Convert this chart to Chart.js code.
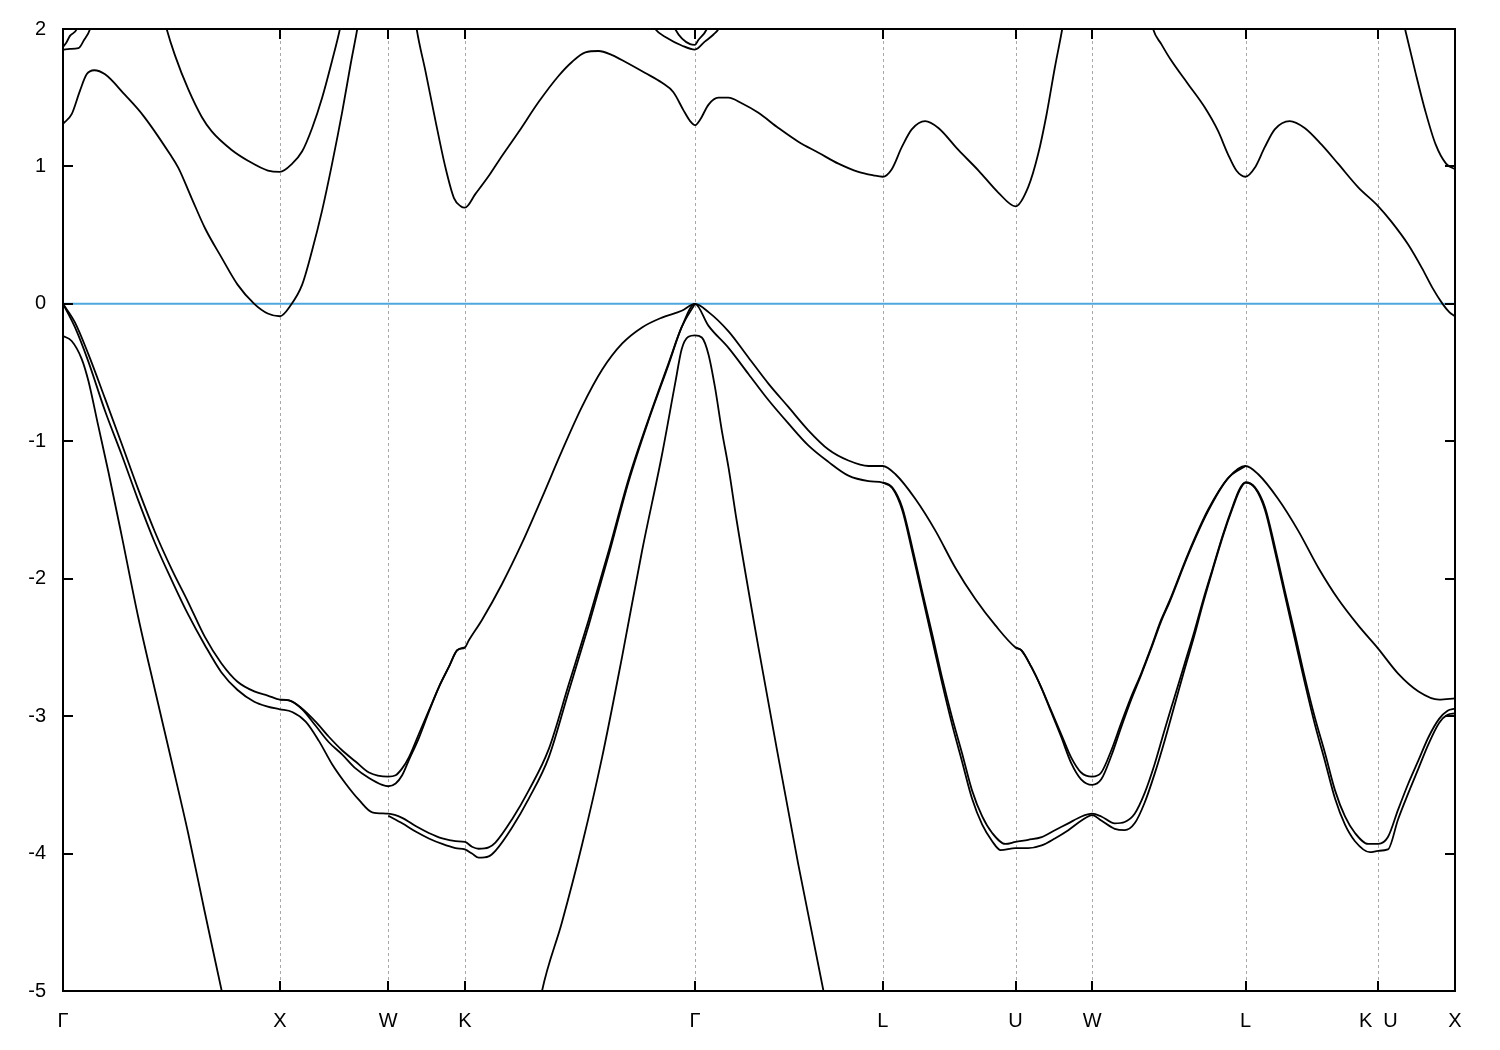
<!DOCTYPE html>
<html>
<head>
<meta charset="utf-8">
<script src="https://cdn.jsdelivr.net/npm/chart.js@4.4.1/dist/chart.umd.min.js"></script>
<style>
  html, body { margin: 0; padding: 0; background: #fff; }
  #wrap { width: 1500px; height: 1050px; }
</style>
</head>
<body>
<div id="wrap"><canvas id="bands" width="1500" height="1050"></canvas></div>
<script>
// high-symmetry path (units of 2pi/a) and labels
const kTicks = [0, 1.0, 1.5, 1.8536, 2.9142, 3.7802, 4.3926, 4.7462, 5.4533, 6.0657, 6.4193];
const kLabels = ['Γ', 'X', 'W', 'K', 'Γ', 'L', 'U', 'W', 'L', 'K  U', 'X'];
const eMin = -5, eMax = 2;
const fermi = [[0, 0], [6.4193, 0]];

// ---- conduction bands [k, E] ----
const cond1 = [
  [0,1.31],[0.040,1.38],[0.078,1.55],[0.109,1.67],[0.144,1.70],[0.194,1.67],[0.286,1.52],[0.370,1.37],[0.493,1.09],[0.532,0.99],[0.593,0.77],[0.655,0.55],[0.730,0.34],[0.805,0.14],[0.882,0.0],[0.944,-0.07],[1.0,-0.09],
  [1.050,-0.01],[1.103,0.14],[1.149,0.39],[1.195,0.68],[1.241,1.02],[1.288,1.40],[1.326,1.74],[1.357,2.0],[1.42,2.6],[1.5,2.9],
  [1.58,2.6],[1.631,2.0],[1.672,1.69],[1.718,1.33],[1.764,0.99],[1.803,0.77],[1.834,0.71],[1.8536,0.70],
  [1.902,0.80],[1.963,0.93],[2.009,1.04],[2.101,1.25],[2.194,1.47],[2.286,1.66],[2.347,1.76],[2.409,1.83],[2.470,1.84],[2.532,1.81],[2.594,1.76],[2.685,1.68],[2.761,1.61],[2.815,1.54],[2.861,1.41],[2.892,1.33],[2.9142,1.30],
  [2.938,1.34],[2.977,1.45],[3.022,1.50],[3.068,1.50],[3.130,1.46],[3.207,1.39],[3.299,1.28],[3.391,1.18],[3.484,1.10],[3.576,1.02],[3.668,0.96],[3.737,0.935],[3.7802,0.925],
  [3.822,0.98],[3.868,1.14],[3.914,1.27],[3.976,1.33],[4.037,1.28],[4.129,1.12],[4.222,0.97],[4.313,0.81],[4.3926,0.71],
  [4.451,0.85],[4.497,1.09],[4.536,1.38],[4.574,1.72],[4.608,2.0],[4.67,2.6],[4.7462,2.9],
  [4.95,2.6],[5.027,2.0],[5.065,1.89],[5.111,1.77],[5.188,1.60],[5.265,1.43],[5.326,1.26],[5.372,1.09],[5.411,0.97],[5.4533,0.925],
  [5.496,0.99],[5.542,1.14],[5.588,1.27],[5.657,1.33],[5.726,1.28],[5.803,1.16],[5.880,1.02],[5.972,0.85],[6.0657,0.71],
  [6.125,0.60],[6.204,0.43],[6.267,0.26],[6.314,0.12],[6.362,0.0],[6.393,-0.06],[6.4193,-0.09]
];
const cond2 = [
  [0,1.85],[0.032,1.855],[0.071,1.86],[0.097,1.92],[0.125,2.0],[0.20,2.5],[0.30,2.7],[0.40,2.5],
  [0.478,2.0],[0.516,1.81],[0.578,1.56],[0.640,1.36],[0.686,1.255],[0.778,1.12],[0.855,1.04],[0.945,0.97],[1.0,0.96],
  [1.057,1.02],[1.103,1.11],[1.149,1.28],[1.195,1.50],[1.241,1.77],[1.277,2.0],[1.35,2.6]
];
const cond3 = [[0,1.87],[0.015,1.90],[0.032,1.95],[0.064,2.0],[0.10,2.2]];
const condGa = [[2.70,2.1],[2.731,2.0],[2.786,1.935],[2.853,1.88],[2.9142,1.85],[2.961,1.91],[3.000,1.96],[3.023,2.0],[3.05,2.1]];
const condGb = [[2.80,2.1],[2.823,2.0],[2.892,1.89],[2.9142,1.885],[2.930,1.92],[2.969,2.0],[2.99,2.1]];
const cond4 = [[6.13,2.4],[6.189,2.0],[6.236,1.69],[6.283,1.40],[6.330,1.16],[6.378,1.02],[6.4193,0.98]];

// ---- valence bands [k, E] ----
const val1 = [
  [0,0],[0.055,-0.135],[0.117,-0.366],[0.194,-0.69],[0.271,-1.02],[0.347,-1.35],[0.424,-1.66],[0.501,-1.93],[0.577,-2.17],[0.653,-2.42],[0.730,-2.615],[0.805,-2.75],[0.882,-2.82],[0.944,-2.85],[1.0,-2.88],
  [1.042,-2.885],[1.103,-2.945],[1.165,-3.04],[1.226,-3.15],[1.288,-3.25],[1.349,-3.33],[1.411,-3.41],[1.5,-3.44],
  [1.534,-3.43],[1.564,-3.38],[1.595,-3.30],[1.641,-3.13],[1.687,-2.96],[1.733,-2.79],[1.780,-2.64],[1.818,-2.52],[1.8536,-2.50],
  [1.871,-2.45],[1.932,-2.30],[2.024,-2.04],[2.117,-1.74],[2.209,-1.41],[2.301,-1.07],[2.393,-0.75],[2.486,-0.48],[2.578,-0.29],[2.672,-0.17],[2.762,-0.10],[2.853,-0.05],[2.9142,0],
  [2.977,-0.06],[3.069,-0.20],[3.161,-0.39],[3.253,-0.58],[3.345,-0.75],[3.437,-0.92],[3.530,-1.06],[3.622,-1.14],[3.715,-1.18],[3.7802,-1.18],
  [3.839,-1.24],[3.931,-1.42],[4.023,-1.65],[4.115,-1.92],[4.208,-2.15],[4.300,-2.34],[4.3926,-2.50],
  [4.419,-2.52],[4.465,-2.64],[4.511,-2.79],[4.557,-2.96],[4.603,-3.13],[4.649,-3.30],[4.695,-3.41],[4.7462,-3.44],
  [4.788,-3.41],[4.834,-3.25],[4.880,-3.05],[4.926,-2.86],[4.972,-2.69],[5.018,-2.50],[5.064,-2.30],[5.103,-2.16],[5.188,-1.82],[5.280,-1.50],[5.372,-1.27],[5.4533,-1.18],
  [5.512,-1.24],[5.604,-1.42],[5.696,-1.65],[5.789,-1.92],[5.881,-2.15],[5.973,-2.34],[6.0657,-2.51],
  [6.157,-2.69],[6.251,-2.82],[6.346,-2.88],[6.4193,-2.87]
];
const val2a = [
  [1.0,-2.88],[1.042,-2.885],[1.103,-2.95],[1.165,-3.07],[1.226,-3.19],[1.288,-3.28],[1.349,-3.38],[1.411,-3.45],[1.472,-3.50],[1.5,-3.51],
  [1.534,-3.49],[1.564,-3.43],[1.595,-3.32],[1.641,-3.16],[1.687,-2.97],[1.733,-2.79],[1.780,-2.64],[1.818,-2.52],[1.8536,-2.50]
];
const val2b = [
  [4.3926,-2.50],[4.419,-2.52],[4.465,-2.64],[4.511,-2.79],[4.557,-2.97],[4.603,-3.15],[4.649,-3.34],[4.695,-3.46],[4.7462,-3.50],
  [4.788,-3.46],[4.834,-3.29],[4.880,-3.08],[4.926,-2.88],[4.972,-2.70],[5.018,-2.51],[5.064,-2.31],[5.103,-2.17],[5.188,-1.83],[5.280,-1.51],[5.372,-1.27],[5.4533,-1.18]
];
const val3 = [
  [0,0],[0.055,-0.17],[0.117,-0.42],[0.194,-0.78],[0.271,-1.10],[0.347,-1.43],[0.424,-1.74],[0.501,-2.01],[0.577,-2.26],[0.653,-2.48],[0.730,-2.68],[0.805,-2.81],[0.882,-2.895],[0.944,-2.93],[1.0,-2.95],
  [1.057,-2.97],[1.119,-3.04],[1.180,-3.18],[1.241,-3.35],[1.303,-3.49],[1.365,-3.61],[1.426,-3.70],[1.5,-3.71],
  [1.564,-3.74],[1.626,-3.80],[1.687,-3.85],[1.749,-3.89],[1.810,-3.91],[1.8536,-3.915],
  [1.886,-3.95],[1.917,-3.965],[1.963,-3.955],[1.994,-3.92],[2.071,-3.75],[2.148,-3.54],[2.240,-3.24],[2.332,-2.77],[2.424,-2.30],[2.516,-1.80],[2.609,-1.27],[2.702,-0.83],[2.793,-0.43],[2.853,-0.17],[2.9142,0],
  [2.977,-0.16],[3.069,-0.32],[3.161,-0.51],[3.253,-0.70],[3.345,-0.87],[3.437,-1.03],[3.530,-1.15],[3.622,-1.25],[3.715,-1.29],[3.7802,-1.30],
  [3.824,-1.335],[3.870,-1.48],[3.916,-1.77],[3.962,-2.09],[4.008,-2.40],[4.054,-2.72],[4.100,-3.01],[4.146,-3.27],[4.192,-3.54],[4.239,-3.73],[4.285,-3.85],[4.346,-3.93],[4.3926,-3.915],
  [4.451,-3.90],[4.513,-3.88],[4.574,-3.83],[4.636,-3.78],[4.697,-3.73],[4.7462,-3.71],
  [4.788,-3.73],[4.850,-3.78],[4.896,-3.77],[4.942,-3.71],[4.988,-3.56],[5.034,-3.35],[5.080,-3.10],[5.126,-2.86],[5.172,-2.62],[5.218,-2.38],[5.257,-2.16],[5.303,-1.92],[5.349,-1.68],[5.395,-1.47],[5.425,-1.35],[5.4533,-1.30],
  [5.497,-1.335],[5.543,-1.48],[5.589,-1.77],[5.635,-2.09],[5.681,-2.40],[5.727,-2.72],[5.773,-3.01],[5.820,-3.27],[5.866,-3.54],[5.912,-3.73],[5.958,-3.85],[6.019,-3.93],[6.0657,-3.93],
  [6.110,-3.88],[6.157,-3.68],[6.204,-3.49],[6.251,-3.32],[6.298,-3.15],[6.346,-3.02],[6.385,-2.96],[6.4193,-2.945]
];
const val4a = [
  [1.5,-3.725],[1.564,-3.78],[1.626,-3.84],[1.687,-3.89],[1.749,-3.93],[1.810,-3.96],[1.8536,-3.97],
  [1.886,-4.00],[1.917,-4.03],[1.963,-4.02],[1.994,-3.98],[2.071,-3.81],[2.148,-3.60],[2.240,-3.30],[2.332,-2.82],[2.424,-2.34],[2.516,-1.83],[2.609,-1.29],[2.702,-0.84],[2.793,-0.44],[2.853,-0.17],[2.9142,0]
];
const val4b = [
  [3.7802,-1.30],[3.824,-1.34],[3.870,-1.50],[3.916,-1.80],[3.962,-2.12],[4.008,-2.44],[4.054,-2.76],[4.100,-3.06],[4.146,-3.33],[4.192,-3.60],[4.239,-3.79],[4.285,-3.91],[4.324,-3.975],[4.3926,-3.96],
  [4.451,-3.96],[4.513,-3.94],[4.574,-3.89],[4.636,-3.83],[4.697,-3.76],[4.7462,-3.72],
  [4.788,-3.76],[4.850,-3.82],[4.896,-3.83],[4.942,-3.78],[4.988,-3.63],[5.034,-3.42],[5.080,-3.18],[5.126,-2.92],[5.172,-2.66],[5.218,-2.41],[5.257,-2.18],[5.303,-1.93],[5.349,-1.69],[5.395,-1.48],[5.425,-1.36],[5.4533,-1.30],
  [5.497,-1.34],[5.543,-1.50],[5.589,-1.80],[5.635,-2.12],[5.681,-2.44],[5.727,-2.76],[5.773,-3.06],[5.820,-3.33],[5.866,-3.60],[5.912,-3.79],[5.958,-3.91],[6.027,-3.99],[6.0657,-3.98],
  [6.110,-3.97],[6.157,-3.75],[6.204,-3.56],[6.251,-3.38],[6.298,-3.20],[6.346,-3.05],[6.385,-2.99],[6.4193,-2.98]
];
// split-off band
const soLeft = [
  [0,-0.234],[0.040,-0.27],[0.086,-0.40],[0.117,-0.56],[0.163,-0.89],[0.209,-1.22],[0.271,-1.69],[0.347,-2.28],[0.424,-2.81],[0.501,-3.33],[0.577,-3.85],[0.653,-4.42],[0.732,-5.0],[0.80,-5.5]
];
const soMid = [
  [2.10,-6.0],[2.209,-5.0],[2.301,-4.50],[2.393,-3.94],[2.486,-3.30],[2.578,-2.57],[2.670,-1.80],[2.762,-1.10],[2.824,-0.57],[2.853,-0.33],[2.884,-0.24],[2.9142,-0.23],
  [2.946,-0.245],[2.977,-0.37],[3.007,-0.61],[3.038,-0.92],[3.069,-1.19],[3.107,-1.58],[3.207,-2.50],[3.299,-3.30],[3.391,-4.08],[3.507,-5.0],[3.60,-5.8]
];

const bandSets = [cond1, cond2, cond3, condGa, condGb, cond4, val1, val2a, val2b, val3, val4a, val4b, soLeft, soMid];

const FONT = "'Liberation Sans', Arial, Helvetica, sans-serif";

// frame, inward ticks and dashed symmetry lines
const framePlugin = {
  id: 'frame',
  beforeDatasetsDraw(chart) {
    const { ctx, chartArea: a, scales: { x } } = chart;
    ctx.save();
    ctx.strokeStyle = '#a8a8a8';
    ctx.lineWidth = 1;
    ctx.setLineDash([3, 3]);
    kTicks.slice(1, -1).forEach(v => {
      const px = Math.round(x.getPixelForValue(v)) + 0.5;
      ctx.beginPath();
      ctx.moveTo(px, a.top);
      ctx.lineTo(px, a.bottom);
      ctx.stroke();
    });
    ctx.restore();
  },
  afterDatasetsDraw(chart) {
    const { ctx, chartArea: a, scales: { x, y } } = chart;
    ctx.save();
    ctx.strokeStyle = '#000';
    ctx.lineWidth = 2;
    const len = 10;
    kTicks.forEach(v => {
      const px = Math.round(x.getPixelForValue(v));
      ctx.beginPath();
      ctx.moveTo(px, a.bottom); ctx.lineTo(px, a.bottom - len);
      ctx.moveTo(px, a.top); ctx.lineTo(px, a.top + len);
      ctx.stroke();
    });
    for (let e = eMin; e <= eMax; e++) {
      const py = Math.round(y.getPixelForValue(e));
      ctx.beginPath();
      ctx.moveTo(a.left, py); ctx.lineTo(a.left + len, py);
      ctx.moveTo(a.right, py); ctx.lineTo(a.right - len, py);
      ctx.stroke();
    }
    ctx.strokeRect(a.left, a.top, a.right - a.left, a.bottom - a.top);
    ctx.restore();
  }
};

const datasets = bandSets.map(b => ({
  data: b.map(p => ({ x: p[0], y: p[1] })),
  borderColor: '#000',
  borderWidth: 1.8,
  order: 0
}));
datasets.push({
  data: fermi.map(p => ({ x: p[0], y: p[1] })),
  borderColor: '#4fa8dd',
  borderWidth: 2,
  order: 1
});

new Chart(document.getElementById('bands'), {
  type: 'line',
  data: { datasets: datasets },
  options: {
    responsive: false,
    animation: false,
    devicePixelRatio: 1,
    layout: { padding: { left: 0, right: 45, top: 28, bottom: 0 } },
    plugins: { legend: { display: false }, tooltip: { enabled: false } },
    elements: {
      point: { radius: 0 },
      line: { cubicInterpolationMode: 'monotone' }
    },
    scales: {
      x: {
        type: 'linear',
        min: 0,
        max: kTicks[kTicks.length - 1],
        grid: { display: false, drawTicks: false },
        border: { display: false },
        afterBuildTicks: s => { s.ticks = kTicks.map(v => ({ value: v })); },
        afterFit: s => { s.height = 59; },
        ticks: {
          autoSkip: false,
          maxRotation: 0,
          padding: 18,
          color: '#000',
          font: { family: FONT, size: 20 },
          callback: (v, i) => kLabels[i]
        }
      },
      y: {
        type: 'linear',
        min: eMin,
        max: eMax,
        grid: { display: false, drawTicks: false },
        border: { display: false },
        afterFit: s => { s.width = 63; },
        ticks: {
          stepSize: 1,
          padding: 17,
          color: '#000',
          font: { family: FONT, size: 20 },
          callback: v => String(v)
        }
      }
    }
  },
  plugins: [framePlugin]
});
</script>
</body>
</html>
